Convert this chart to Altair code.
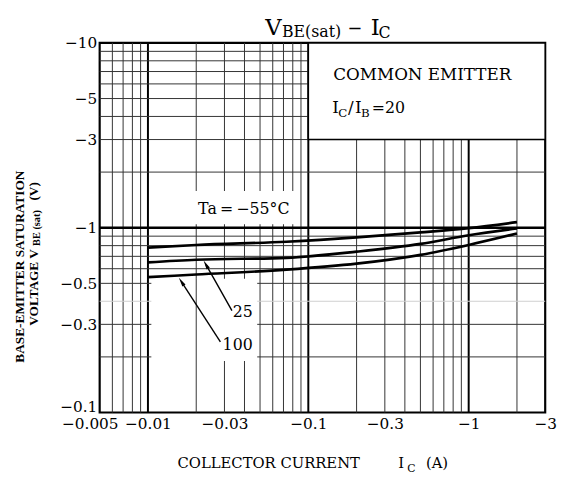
import altair as alt
import pandas as pd

SERIF = "DejaVu Serif"
NARROW = "Liberation Serif"
W, H = 452, 375

# ---- data -------------------------------------------------------------
ic_a = [0.01, 0.02, 0.073, 0.2, 0.5, 1, 2]
vbe_m55 = [0.78, 0.806, 0.84, 0.886, 0.943, 0.995, 1.072]
vbe_25 = [0.649, 0.671, 0.687, 0.742, 0.817, 0.91, 0.99]
vbe_100 = [0.54, 0.558, 0.593, 0.639, 0.713, 0.807, 0.93]
series_names = ["-55", "25", "100"]

x_tick_values = [0.005, 0.01, 0.03, 0.1, 0.3, 1, 3]
y_tick_values = [0.1, 0.3, 0.5, 1, 3, 5, 10]
X_DOMAIN = [0.005, 3]
Y_DOMAIN = [0.1, 10]

x_grid_minor = [0.006, 0.007, 0.008, 0.009, 0.02, 0.03, 0.04, 0.05, 0.06,
                0.07, 0.08, 0.09, 0.2, 0.3, 0.4, 0.5, 0.6, 0.7, 0.8, 0.9, 2]
x_grid_major = [0.01, 0.1, 1]
y_grid_minor = [0.2, 0.3, 0.5, 0.6, 0.7, 0.8, 0.9, 2, 3, 4, 5, 6, 7, 8, 9]
y_grid_faint = [0.4]
y_grid_major = [1]

# annotation anchors (data coordinates)
ta_label = {"x": [0.0396], "y": [1.266], "t": ["Ta\u2009=\u2009\u221255\u00b0C"]}
num_labels = {"x": [0.045, 0.045], "y": [0.349, 0.233], "t": ["25", "100"]}
arrows = {"x": [0.0334, 0.0283], "y": [0.356, 0.241],
          "x2": [0.02306, 0.01623], "y2": [0.629, 0.5077], "a": [330, 327]}
masks = {"x": [0.013, 0.0105], "x2": [0.087, 0.048],
         "y": [1.045, 0.19], "y2": [1.58, 0.53]}
extra_lines = {"v": [0.02], "lo": [0.19], "hi": [0.53]}
box = {"x": [0.1], "x2": [3], "y": [3], "y2": [10]}

# ---- build tables ----------------------------------------------------------
curves = pd.DataFrame({
    "ic": ic_a * 3,
    "vbe": vbe_m55 + vbe_25 + vbe_100,
    "series": sum([[s] * len(ic_a) for s in series_names], []),
})
vgrid = pd.DataFrame({
    "v": x_grid_minor + x_grid_major,
    "w": [1] * len(x_grid_minor) + [2] * len(x_grid_major),
    "c": ["#333333"] * len(x_grid_minor) + ["#000000"] * len(x_grid_major),
    "lo": Y_DOMAIN[0], "hi": Y_DOMAIN[1],
})
hgrid = pd.DataFrame({
    "v": y_grid_minor + y_grid_faint + y_grid_major,
    "w": [1] * len(y_grid_minor) + [1] * len(y_grid_faint) + [2.5] * len(y_grid_major),
    "c": ["#333333"] * len(y_grid_minor) + ["#cfcfcf"] * len(y_grid_faint)
         + ["#000000"] * len(y_grid_major),
    "lo": X_DOMAIN[0], "hi": X_DOMAIN[1],
})

xs = alt.Scale(type="log", domain=X_DOMAIN, nice=False)
ys = alt.Scale(type="log", domain=Y_DOMAIN, nice=False)

lab_expr = "'\u2212' + format(datum.value, '~g')"
x_axis = alt.Axis(values=x_tick_values, labelExpr=lab_expr, grid=False, ticks=False,
                  domain=False, title="", labelPadding=4, labelFontSize=15.5,
                  labelFont=SERIF, labelColor="black", labelFlush=False,
                  labelOverlap=False, labelBound=False,
                  labelOffset={"condition": {"test": "datum.value < 0.006", "value": -10},
                               "value": 0})
y_axis = alt.Axis(values=y_tick_values, labelExpr=lab_expr, grid=False, ticks=False,
                  domain=False, title="", labelPadding=3, labelFontSize=15.5,
                  labelFont=SERIF, labelColor="black", labelOverlap=False,
                  labelBound=False, labelFlush=False,
                  labelOffset={"condition": {"test": "datum.value < 0.15", "value": -6},
                               "value": 0})


def X(field):
    return alt.X(field, type="quantitative", scale=xs, axis=x_axis)


def Y(field):
    return alt.Y(field, type="quantitative", scale=ys, axis=y_axis)


vgrid_layer = alt.Chart(vgrid).mark_rule().encode(
    x=X("v"), y=Y("lo"), y2="hi:Q",
    strokeWidth=alt.StrokeWidth("w:Q", scale=None),
    color=alt.Color("c:N", scale=None),
)
hgrid_layer = alt.Chart(hgrid).mark_rule().encode(
    y=Y("v"), x=X("lo"), x2="hi:Q",
    strokeWidth=alt.StrokeWidth("w:Q", scale=None),
    color=alt.Color("c:N", scale=None),
)
mask_layer = alt.Chart(pd.DataFrame(masks)).mark_rect(color="white").encode(
    x=X("x"), x2="x2:Q", y=Y("y"), y2="y2:Q",
)
extra_layer = alt.Chart(pd.DataFrame(extra_lines)).mark_rule(color="#333333", strokeWidth=1).encode(
    x=X("v"), y=Y("lo"), y2="hi:Q",
)
box_layer = alt.Chart(pd.DataFrame(box)).mark_rect(fill="white", stroke="black", strokeWidth=1.6).encode(
    x=X("x"), x2="x2:Q", y=Y("y"), y2="y2:Q",
)
curve_layer = alt.Chart(curves).mark_line(color="black", strokeWidth=2.7, interpolate="monotone").encode(
    x=X("ic"), y=Y("vbe"), detail="series:N",
)
arrow_layer = alt.Chart(pd.DataFrame(arrows)).mark_rule(color="black", strokeWidth=1.4).encode(
    x=X("x"), x2="x2:Q", y=Y("y"), y2="y2:Q",
)
head_layer = alt.Chart(pd.DataFrame(arrows)).mark_point(
    shape="M0,-1L0.36,0.8L-0.36,0.8Z", filled=True, color="black", size=110, opacity=1).encode(
    x=X("x2"), y=Y("y2"), angle=alt.Angle("a:Q", scale=None),
)
ta_layer = alt.Chart(pd.DataFrame(ta_label)).mark_text(
    font=SERIF, fontSize=16, color="black", align="center", baseline="middle").encode(
    x=X("x"), y=Y("y"), text="t:N")
num_layer = alt.Chart(pd.DataFrame(num_labels)).mark_text(
    font=SERIF, fontSize=16, color="black", align="right", baseline="middle").encode(
    x=X("x"), y=Y("y"), text="t:N")


def label(text, x, y, size, align="left", baseline="alphabetic", angle=0, font=SERIF,
          weight="normal"):
    return alt.Chart(pd.DataFrame({"t": [text]})).mark_text(
        align=align, baseline=baseline, fontSize=size, font=font, angle=angle,
        fontWeight=weight, color="black").encode(text="t:N", x=alt.value(x), y=alt.value(y))


texts = [
    # chart title  V_BE(sat) - I_C
    label("V", 168, -8, 23),
    label("BE(sat)", 185, -6, 16),
    label("\u2212", 259, -9, 18, align="center"),
    label("I", 275, -8, 23),
    label("C", 283, -5, 16),
    # legend box
    label("COMMON EMITTER", 237, 38, 17),
    label("I", 236, 71, 17),
    label("C", 242, 75, 12),
    label("/", 252, 71, 17),
    label("I", 259, 71, 17),
    label("B", 265, 75, 12),
    label("=20", 276, 71, 16),
    # x title
    label("COLLECTOR CURRENT", 79, 431, 15),
    label("I", 303, 431, 15),
    label("C", 312, 435, 11),
    label("(A)", 331, 431, 15),
    # y title (rotated)
    label("BASE-EMITTER SATURATION", -81, 227, 13.5, align="center", baseline="middle",
          angle=270, font=NARROW, weight="bold"),
    label("VOLTAGE  V", -67, 287, 13.5, align="left", baseline="middle", angle=270,
          font=NARROW, weight="bold"),
    label("BE (sat)", -63.5, 206, 10.5, align="left", baseline="middle", angle=270,
          font=NARROW, weight="bold"),
    label("(V)", -67, 160, 13.5, align="left", baseline="middle", angle=270,
          font=NARROW, weight="bold"),
]

chart = alt.layer(
    vgrid_layer, hgrid_layer, mask_layer, extra_layer, box_layer,
    curve_layer, arrow_layer, head_layer, ta_layer, num_layer, *texts
).properties(
    width=W, height=H,
    padding={"left": 93, "top": 32, "right": 14, "bottom": 62},
    autosize=alt.AutoSizeParams(type="none"),
    background="white",
).configure_view(stroke="black", strokeWidth=2.2)

chart.save("out.html", embed_options={"renderer": "svg", "actions": False})
